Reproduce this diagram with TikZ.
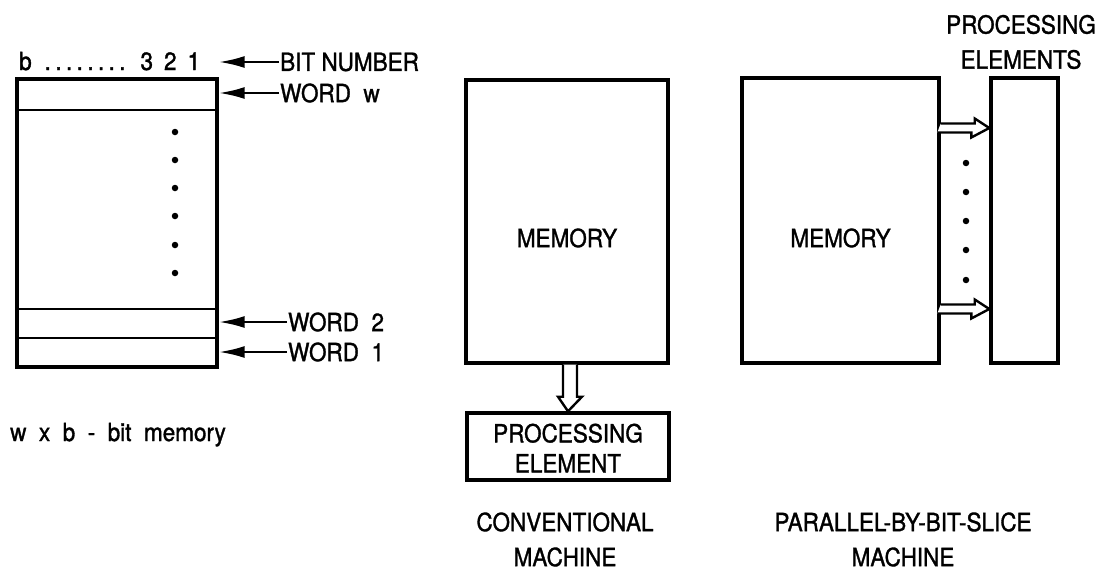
\documentclass[tikz,border=0pt]{standalone}
\usepackage{fontspec}
\setmainfont{TeX Gyre Heros}[FakeBold=1.3,FakeStretch=0.9]
\usetikzlibrary{arrows.meta,calc}
\newcommand{\dotrow}{.\kern4.4pt.\kern4.4pt.\kern4.4pt.\kern4.4pt.\kern4.4pt.\kern4.4pt.\kern4.4pt.}
\begin{document}
\begin{tikzpicture}[x=1pt,y=-1pt,
  every node/.style={font=\fontsize{25}{35}\selectfont, inner sep=1pt},
  boxline/.style={draw, line width=3.4pt},
  ptr/.style={line width=2.6pt, -{Latex[length=26pt,width=12pt]}},
  bigarrow/.style={draw, line width=2.4pt, fill=white, line join=miter},
  vdot/.style={circle, fill, inner sep=0pt, minimum size=6.5pt}]
\useasboundingbox (0,0) rectangle (1105,570);

% ---- left: w x b-bit memory ----
\node[boxline, minimum width=200pt, minimum height=288pt, inner sep=0pt] (lm) at (117,223) {};
\coordinate (l1) at (17,110);
\coordinate (l2) at (17,309);
\coordinate (l3) at (17,338);
\draw[line width=2.6pt] (l1) -- (l1 -| lm.east);
\draw[line width=2.6pt] (l2) -- (l2 -| lm.east);
\draw[line width=2.6pt] (l3) -- (l3 -| lm.east);
\foreach \y [count=\i] in {132,160,188,216,245,273} \node[vdot] (ld\i) at (175,\y) {};

\node[anchor=base west] (bits) at (18,70) {b\hspace{13pt}\dotrow\hspace{15pt}3\hspace{11pt}2\hspace{11pt}1};
\node[anchor=west] (bitnum) at (279,62) {BIT\ NUMBER};
\node[anchor=west] (ww) at (279,93) {WORD\ \ w};
\node[anchor=west] (w2) at (287,322) {WORD\ \ 2};
\node[anchor=west] (w1) at (287,352) {WORD\ \ 1};
\draw[ptr] (bitnum.west) -- (bitnum.west -| lm.east);
\draw[ptr] (ww.west) -- (ww.west -| lm.east);
\draw[ptr] (w2.west) -- (w2.west -| lm.east);
\draw[ptr] (w1.west) -- (w1.west -| lm.east);
\node[anchor=base west] (cap1) at (9,441) {w\ \ x\ \ b\ \ -\ \ bit\ \ memory};

% ---- middle: conventional machine ----
\node[boxline, minimum width=202pt, minimum height=283pt, inner sep=0pt] (mem2) at (567,221.5) {};
\node (mem2t) at (567,238) {MEMORY};
\node[boxline, minimum width=202pt, minimum height=67pt, inner sep=0pt] (pe) at (568,446.5) {};
\node[align=center] (pet) at (568,448) {PROCESSING\\[-5pt]ELEMENT};
\draw[bigarrow] ($(mem2.south)+(-4,0)$) -- ++(0,32) -- ++(-5,0) -- (pe.north) -- ($(mem2.south)+(15,32)$) -- ++(-5,0) -- ++(0,-32);
\node[align=center] (conv) at (565,539.5) {CONVENTIONAL\\MACHINE};

% ---- right: parallel-by-bit-slice machine ----
\node[boxline, minimum width=197pt, minimum height=285pt, inner sep=0pt] (mem3) at (840.5,220.5) {};
\node (mem3t) at (840.5,238) {MEMORY};
\node[boxline, minimum width=67pt, minimum height=285pt, inner sep=0pt] (pes) at (1024.5,220.5) {};
\node[align=center] (pest) at (1021,42) {PROCESSING\\ELEMENTS};
\foreach \y in {128,309} {
  \draw[bigarrow] (mem3.east |- 0,\y) ++(0,-4.5) -- ++(34,0) -- ++(0,-5) -- (pes.west |- 0,\y) -- ++(-18,9.5) -- ++(0,-5) -- ++(-34,0);
}
\foreach \y [count=\i] in {163,192,221,250,280} \node[vdot] (rd\i) at (966,\y) {};
\node[align=center] (par) at (903,539.5) {PARALLEL-BY-BIT-SLICE\\MACHINE};
\end{tikzpicture}
\end{document}
